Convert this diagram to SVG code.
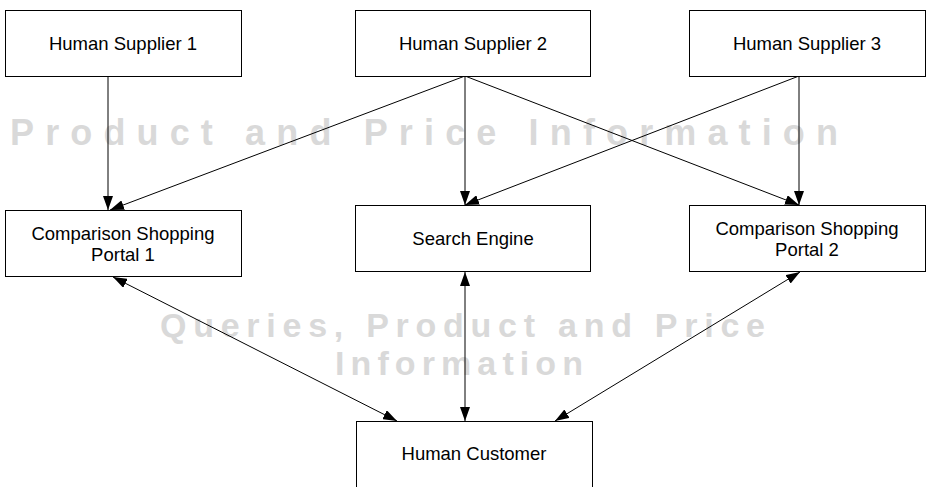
<svg xmlns="http://www.w3.org/2000/svg" width="926" height="487" viewBox="0 0 926 487">
<style>
.box{fill:#fff;stroke:#000;stroke-width:1}
.lbl{font-family:"Liberation Sans",Arial,sans-serif;font-size:18.5px;fill:#000;text-anchor:middle}
.wm{font-family:"Liberation Sans",Arial,sans-serif;font-weight:bold;fill:#d9d9d9}
.conn line{stroke:#000;stroke-width:1;fill:none}
</style>
<defs>
<marker id="ah" markerUnits="userSpaceOnUse" markerWidth="14" markerHeight="10" refX="14" refY="5" orient="auto-start-reverse" viewBox="0 0 14 10">
<path d="M0,0 L14,5 L0,10 z" fill="#000"/>
</marker>
</defs>
<g id="watermarks">
<text class="wm" x="10" y="145" font-size="36" textLength="828" lengthAdjust="spacing">Product and Price Information</text>
<text class="wm" x="160" y="337" font-size="34" textLength="605" lengthAdjust="spacing">Queries, Product and Price</text>
<text class="wm" x="335" y="375" font-size="34" textLength="248" lengthAdjust="spacing">Information</text>
</g>
<g class="conn" id="connectors">
<line x1="108" y1="76" x2="108" y2="210" marker-end="url(#ah)"/>
<line x1="465" y1="76" x2="110" y2="210" marker-end="url(#ah)"/>
<line x1="465" y1="76" x2="465" y2="205" marker-end="url(#ah)"/>
<line x1="465" y1="76" x2="799" y2="205" marker-end="url(#ah)"/>
<line x1="799" y1="76" x2="799" y2="205" marker-end="url(#ah)"/>
<line x1="799" y1="76" x2="465" y2="205" marker-end="url(#ah)"/>
<line x1="113" y1="277" x2="397" y2="421" marker-start="url(#ah)" marker-end="url(#ah)"/>
<line x1="465" y1="272" x2="465" y2="421" marker-start="url(#ah)" marker-end="url(#ah)"/>
<line x1="800" y1="272" x2="555" y2="421" marker-start="url(#ah)" marker-end="url(#ah)"/>
</g>
<g id="supplier1"><rect class="box" x="5.5" y="10.5" width="236" height="66"/><text class="lbl" x="123" y="50">Human Supplier 1</text></g>
<g id="supplier2"><rect class="box" x="355.5" y="10.5" width="235" height="66"/><text class="lbl" x="473" y="50">Human Supplier 2</text></g>
<g id="supplier3"><rect class="box" x="689.5" y="10.5" width="236" height="66"/><text class="lbl" x="807" y="50">Human Supplier 3</text></g>
<g id="portal1"><rect class="box" x="5.5" y="210.5" width="236" height="66"/><text class="lbl" x="123" y="240">Comparison Shopping</text><text class="lbl" x="123" y="261">Portal 1</text></g>
<g id="searchengine"><rect class="box" x="355.5" y="205.5" width="235" height="66"/><text class="lbl" x="473" y="245">Search Engine</text></g>
<g id="portal2"><rect class="box" x="689.5" y="205.5" width="236" height="66"/><text class="lbl" x="807" y="235">Comparison Shopping</text><text class="lbl" x="807" y="256">Portal 2</text></g>
<g id="customer"><rect class="box" x="356.5" y="421.5" width="236" height="80"/><text class="lbl" x="474" y="460">Human Customer</text></g>
</svg>
